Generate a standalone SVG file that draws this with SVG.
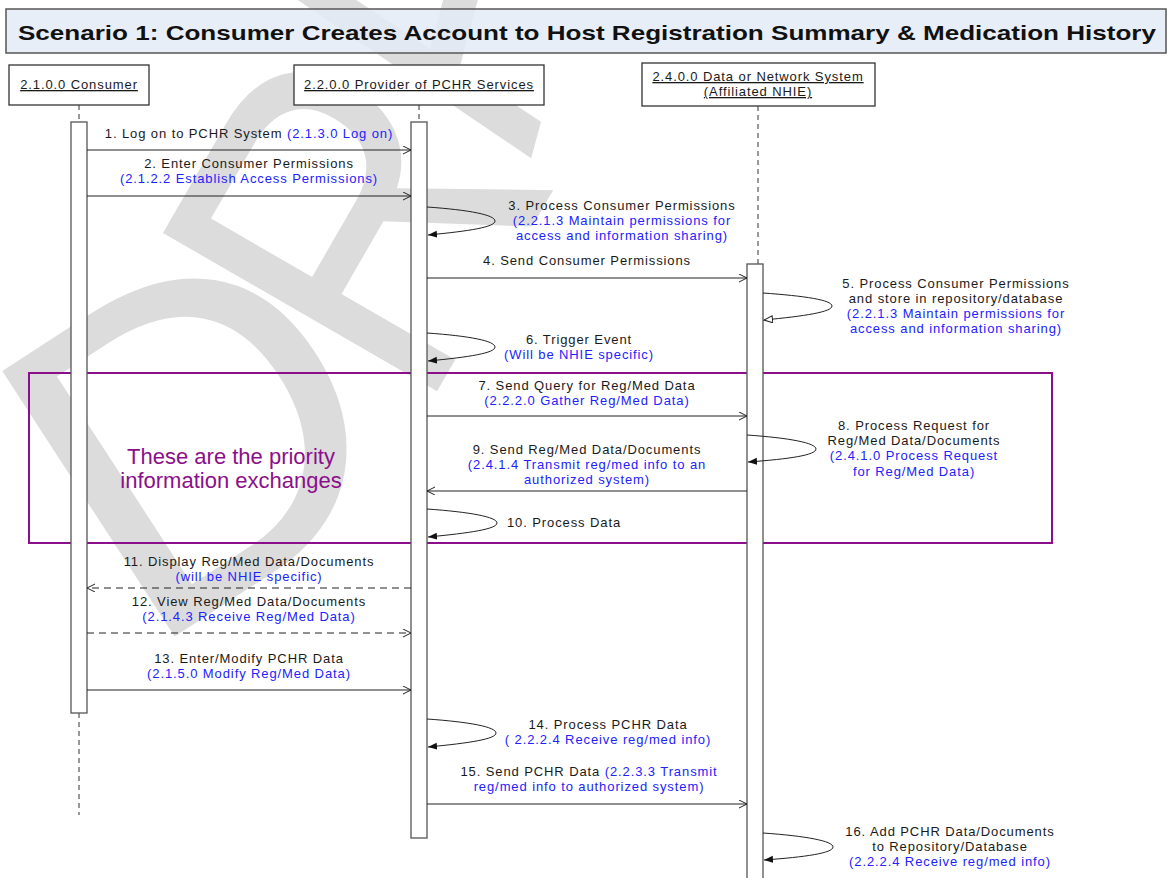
<svg xmlns="http://www.w3.org/2000/svg" width="1171" height="878" viewBox="0 0 1171 878">
  <defs>
    <style>
      .t{font-family:"Liberation Sans",Arial,sans-serif;font-size:13px;letter-spacing:0.9px;fill:#1a1a1a;text-anchor:middle}
      .b{fill:#2222ff}
      .hdr{fill:#fff;stroke:#333;stroke-width:1.3}
      .act{fill:#fff;stroke:#555;stroke-width:1.3}
      .life{stroke:#333;stroke-width:1;stroke-dasharray:5,4;fill:none}
      .msg{stroke:#222;stroke-width:1;fill:none}
      .dash{stroke-dasharray:7,5}
      .u{text-decoration:underline}
      .wm{font-family:"Liberation Sans",Arial,sans-serif;font-size:460px;fill:#dcdcdc}
    </style>
    <marker id="open" markerUnits="userSpaceOnUse" markerWidth="10" markerHeight="10" refX="8" refY="4" orient="auto">
      <path d="M0,0 L8,4 L0,8" fill="none" stroke="#222" stroke-width="1"/>
    </marker>
    <marker id="solid" markerUnits="userSpaceOnUse" markerWidth="10" markerHeight="10" refX="9" refY="3.5" orient="auto">
      <path d="M0,0 L9,3.5 L0,7 Z" fill="#111"/>
    </marker>
    <marker id="hollow" markerUnits="userSpaceOnUse" markerWidth="11" markerHeight="11" refX="9" refY="4" orient="auto">
      <path d="M0.5,0.5 L9,4 L0.5,7.5 Z" fill="#fff" stroke="#222" stroke-width="1"/>
    </marker>
  </defs>

  <rect width="1171" height="878" fill="#fff"/>

  <!-- watermark: letters set along a rising curve -->
  <g id="watermark">
    <text class="wm" transform="translate(143,657) rotate(-33)">D</text>
    <text class="wm" transform="translate(421,419) rotate(-60) scale(0.85,1)">R</text>
    <text class="wm" transform="translate(531,159) rotate(-75) scale(0.85,1)">A</text>
    <text class="wm" transform="translate(575,-97) rotate(-85) scale(0.85,1)">FT</text>
  </g>

  <!-- title -->
  <g id="title">
    <rect x="6" y="9" width="1160" height="44" fill="#e4ebf6" fill-opacity="0.85" stroke="#555" stroke-width="1.5"/>
    <text x="587" y="40" font-family="'Liberation Sans',Arial,sans-serif" font-weight="bold" font-size="21" text-anchor="middle" textLength="1138" lengthAdjust="spacingAndGlyphs" fill="#111">Scenario 1: Consumer Creates Account to Host Registration Summary &amp; Medication History</text>
  </g>

  <!-- priority box -->
  <g id="priority">
    <rect x="29" y="373" width="1023" height="170" fill="none" stroke="#8b0f8b" stroke-width="2"/>
    <text x="231" y="464" font-family="'Liberation Sans',Arial,sans-serif" font-size="22" fill="#8b0f8b" text-anchor="middle">These are the priority</text>
    <text x="231" y="488" font-family="'Liberation Sans',Arial,sans-serif" font-size="22" fill="#8b0f8b" text-anchor="middle">information exchanges</text>
  </g>

  <!-- lifelines -->
  <g id="consumer">
    <rect class="hdr" x="9" y="65" width="140" height="40"/>
    <text class="t u" x="79" y="89">2.1.0.0 Consumer</text>
    <line class="life" x1="79" y1="105" x2="79" y2="122"/>
    <line class="life" x1="79" y1="713" x2="79" y2="815"/>
    <rect class="act" x="71" y="122" width="16" height="591"/>
  </g>
  <g id="provider">
    <rect class="hdr" x="294" y="65" width="250" height="40"/>
    <text class="t u" x="419" y="89">2.2.0.0 Provider of PCHR Services</text>
    <line class="life" x1="419" y1="105" x2="419" y2="122"/>
    <rect class="act" x="411" y="122" width="16" height="716"/>
  </g>
  <g id="nhie">
    <rect class="hdr" x="642" y="63" width="233" height="43"/>
    <text class="t u" x="758" y="81">2.4.0.0 Data or Network System</text>
    <text class="t u" x="758" y="96">(Affiliated NHIE)</text>
    <line class="life" x1="758" y1="106" x2="758" y2="264"/>
    <rect class="act" x="747" y="264" width="16" height="620"/>
  </g>

  <!-- messages -->
  <g id="connectors">
    <line class="msg" x1="87" y1="150" x2="411" y2="150" marker-end="url(#open)"/>
    <line class="msg" x1="87" y1="196" x2="411" y2="196" marker-end="url(#open)"/>
    <path class="msg" d="M427,207 C470,210 495,215 495,221 C495,227 470,231 428,235" marker-end="url(#solid)"/>
    <line class="msg" x1="427" y1="278" x2="747" y2="278" marker-end="url(#open)"/>
    <path class="msg" d="M763,293 C805,296 832,300 832,306 C832,312 805,316 764,320" marker-end="url(#hollow)"/>
    <path class="msg" d="M427,333 C470,336 495,341 495,347 C495,353 470,357 428,361" marker-end="url(#solid)"/>
    <line class="msg" x1="427" y1="416" x2="747" y2="416" marker-end="url(#open)"/>
    <path class="msg" d="M747,435 C790,438 816,443 816,449 C816,455 790,459 748,462" marker-end="url(#solid)"/>
    <line class="msg" x1="747" y1="491" x2="427" y2="491" marker-end="url(#open)"/>
    <path class="msg" d="M427,509 C470,512 497,517 497,523 C497,529 470,533 428,537" marker-end="url(#solid)"/>
    <line class="msg dash" x1="411" y1="588" x2="87" y2="588" marker-end="url(#open)"/>
    <line class="msg dash" x1="87" y1="633" x2="411" y2="633" marker-end="url(#open)"/>
    <line class="msg" x1="87" y1="690" x2="411" y2="690" marker-end="url(#open)"/>
    <path class="msg" d="M427,719 C470,722 496,727 496,733 C496,739 470,743 428,747" marker-end="url(#solid)"/>
    <line class="msg" x1="427" y1="804" x2="747" y2="804" marker-end="url(#open)"/>
    <path class="msg" d="M763,833 C806,836 833,841 833,847 C833,853 806,857 764,860" marker-end="url(#solid)"/>
  </g>

  <!-- message labels -->
  <g id="labels">
    <text class="t" x="249" y="138">1. Log on to PCHR System <tspan class="b">(2.1.3.0 Log on)</tspan></text>
    <text class="t" x="249" y="168">2. Enter Consumer Permissions</text>
    <text class="t b" x="249" y="183">(2.1.2.2 Establish Access Permissions)</text>

    <text class="t" x="622" y="210">3. Process Consumer Permissions</text>
    <text class="t b" x="622" y="225">(2.2.1.3 Maintain permissions for</text>
    <text class="t b" x="622" y="240">access and information sharing)</text>

    <text class="t" x="587" y="265">4. Send Consumer Permissions</text>

    <text class="t" x="956" y="288">5. Process Consumer Permissions</text>
    <text class="t" x="956" y="303">and store in repository/database</text>
    <text class="t b" x="956" y="318">(2.2.1.3 Maintain permissions for</text>
    <text class="t b" x="956" y="333">access and information sharing)</text>

    <text class="t" x="579" y="344">6. Trigger Event</text>
    <text class="t b" x="579" y="359">(Will be NHIE specific)</text>

    <text class="t" x="587" y="390">7. Send Query for Reg/Med Data</text>
    <text class="t b" x="587" y="405">(2.2.2.0 Gather Reg/Med Data)</text>

    <text class="t" x="914" y="430">8. Process Request for</text>
    <text class="t" x="914" y="445">Reg/Med Data/Documents</text>
    <text class="t b" x="914" y="460">(2.4.1.0 Process Request</text>
    <text class="t b" x="914" y="476">for Reg/Med Data)</text>

    <text class="t" x="587" y="454">9. Send Reg/Med Data/Documents</text>
    <text class="t b" x="587" y="469">(2.4.1.4 Transmit reg/med info to an</text>
    <text class="t b" x="587" y="484">authorized system)</text>

    <text class="t" x="564" y="527">10. Process Data</text>

    <text class="t" x="249" y="566">11. Display Reg/Med Data/Documents</text>
    <text class="t b" x="249" y="581">(will be NHIE specific)</text>

    <text class="t" x="249" y="606">12. View Reg/Med Data/Documents</text>
    <text class="t b" x="249" y="621">(2.1.4.3 Receive Reg/Med Data)</text>

    <text class="t" x="249" y="663">13. Enter/Modify PCHR Data</text>
    <text class="t b" x="249" y="678">(2.1.5.0 Modify Reg/Med Data)</text>

    <text class="t" x="608" y="729">14. Process PCHR Data</text>
    <text class="t b" x="608" y="744">( 2.2.2.4 Receive reg/med info)</text>

    <text class="t" x="589" y="776">15. Send PCHR Data <tspan class="b">(2.2.3.3 Transmit</tspan></text>
    <text class="t b" x="589" y="791">reg/med info to authorized system)</text>

    <text class="t" x="950" y="836">16. Add PCHR Data/Documents</text>
    <text class="t" x="950" y="851">to Repository/Database</text>
    <text class="t b" x="950" y="866">(2.2.2.4 Receive reg/med info)</text>
  </g>
</svg>
